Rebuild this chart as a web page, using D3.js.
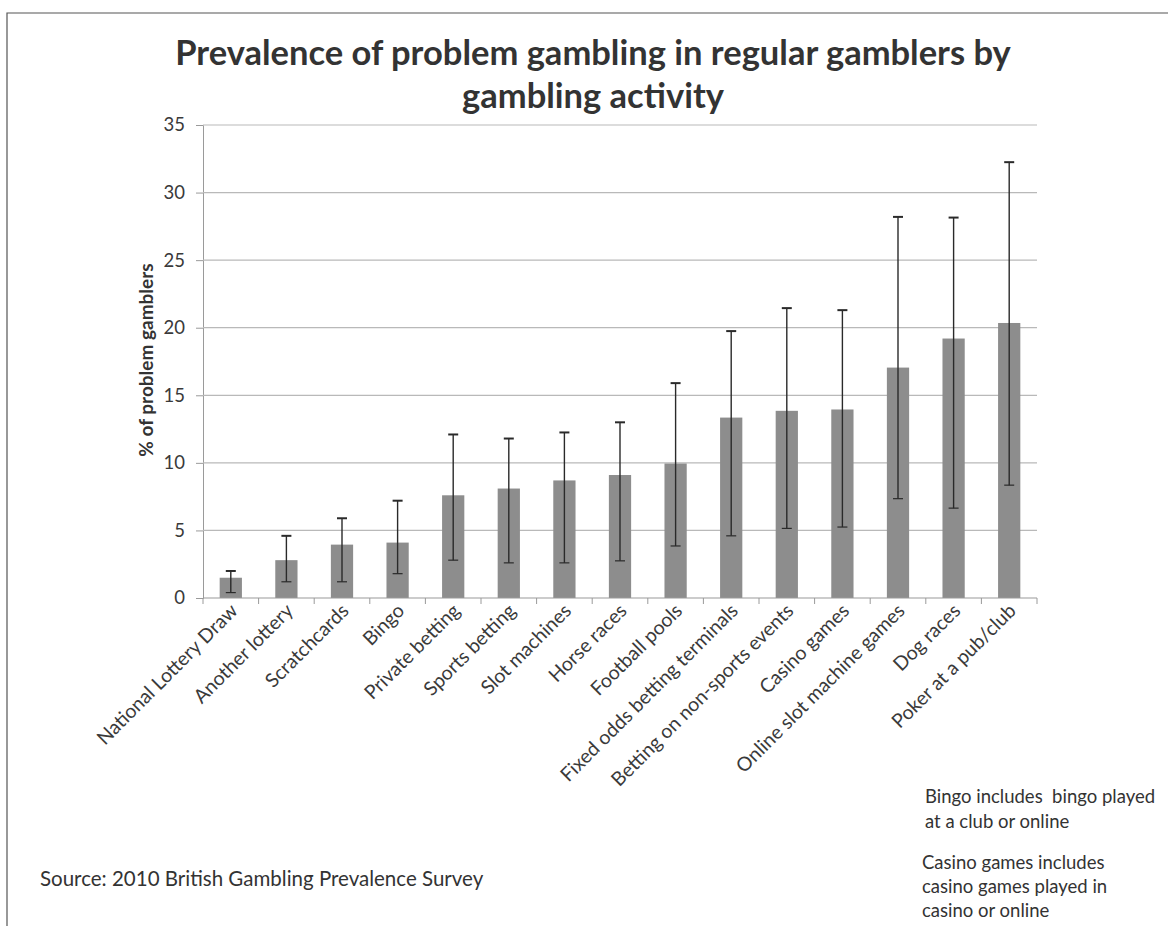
<!DOCTYPE html>
<html>
<head>
<meta charset="utf-8">
<script src="https://cdn.jsdelivr.net/npm/d3@7"></script>
<style>
  html, body { margin: 0; padding: 0; background: #fff; }
  svg { display: block; font-family: Lato, "Open Sans", sans-serif; }
  .pre { white-space: pre; }
</style>
</head>
<body>
<div id="chart"></div>
<script>
// Activities, sorted as in the survey chart
const CATEGORIES = [
    "National Lottery Draw", "Another lottery", "Scratchcards", "Bingo",
    "Private betting", "Sports betting", "Slot machines", "Horse races",
    "Football pools", "Fixed odds betting terminals", "Betting on non-sports events",
    "Casino games", "Online slot machine games", "Dog races", "Poker at a pub/club"
];

// % of problem gamblers (bar height)
const VALUES = [1.5, 2.8, 3.95, 4.1, 7.6, 8.1, 8.7, 9.1, 9.95, 13.35, 13.85, 13.95, 17.05, 19.2, 20.35];

// Confidence interval bounds
const LOWER = [0.4, 1.2, 1.2, 1.8, 2.8, 2.6, 2.6, 2.75, 3.85, 4.6, 5.15, 5.25, 7.35, 6.65, 8.35];
const UPPER = [2.0, 4.6, 5.9, 7.2, 12.1, 11.8, 12.25, 13.0, 15.9, 19.75, 21.45, 21.3, 28.2, 28.15, 32.25];

const Y_TICKS = [0, 5, 10, 15, 20, 25, 30, 35];

const TITLE_LINES = ["Prevalence of problem gambling in regular gamblers by", "gambling activity"];
const NOTES = [
    ["Bingo includes  bingo played", "at a club or online"],
    ["Casino games includes", "casino games played in", "casino or online"]
];
const SOURCE = "Source: 2010 British Gambling Prevalence Survey";

const COLORS = {
    bar: "#8d8d8d",
    err: "#2a2a2a",
    grid: "#b9b9b9",
    axis: "#9a9a9a",
    text: "#3a3a3a"
};

const data = CATEGORIES.map((c, i) => ({ name: c, value: VALUES[i], lo: LOWER[i], hi: UPPER[i] }));

const W = 1168, H = 926;
const plot = { left: 203, right: 1037, top: 125, bottom: 598 };

const svg = d3.select("#chart").append("svg")
    .attr("width", W)
    .attr("height", H);

// frame of the scanned chart area
svg.append("path")
    .attr("d", `M7,${H} L7,13 L${W},13`)
    .attr("fill", "none")
    .attr("stroke", "#555")
    .attr("stroke-width", 1.2);

const x = d3.scaleBand()
    .domain(CATEGORIES)
    .range([plot.left, plot.right])
    .paddingInner(0.6)
    .paddingOuter(0.3);

const y = d3.scaleLinear()
    .domain([0, 35])
    .range([plot.bottom, plot.top]);

// Title
svg.append("text")
    .attr("text-anchor", "middle")
    .attr("font-weight", "bold")
    .attr("font-size", 34.5)
    .attr("fill", "#333")
    .selectAll("tspan")
    .data(TITLE_LINES)
    .join("tspan")
    .attr("x", 593)
    .attr("y", (d, i) => 65 + i * 43)
    .text(d => d);

// Gridlines + y axis
const yAxis = svg.append("g")
    .attr("transform", `translate(${plot.left},0)`)
    .call(d3.axisLeft(y).tickValues(Y_TICKS).tickSize(7).tickPadding(11));

yAxis.select(".domain").attr("stroke", COLORS.axis);
yAxis.selectAll(".tick line").attr("stroke", COLORS.axis);
yAxis.selectAll(".tick text")
    .attr("fill", COLORS.text)
    .attr("font-size", 18.5)
    .attr("font-family", "Lato, sans-serif");

svg.append("g")
    .selectAll("line")
    .data(Y_TICKS.filter(d => d > 0))
    .join("line")
    .attr("x1", plot.left)
    .attr("x2", plot.right)
    .attr("y1", d => y(d))
    .attr("y2", d => y(d))
    .attr("stroke", COLORS.grid)
    .attr("stroke-width", 1.2);

// Y axis title
svg.append("text")
    .attr("transform", `translate(153,360) rotate(-90)`)
    .attr("text-anchor", "middle")
    .attr("font-weight", "bold")
    .attr("font-size", 19)
    .attr("fill", "#333")
    .text("% of problem gamblers");

// Bars
svg.append("g")
    .selectAll("rect")
    .data(data)
    .join("rect")
    .attr("x", d => x(d.name))
    .attr("y", d => y(d.value))
    .attr("width", x.bandwidth())
    .attr("height", d => y(0) - y(d.value))
    .attr("fill", COLORS.bar);

// Error bars
const cx = d => x(d.name) + x.bandwidth() / 2;
const err = svg.append("g")
    .attr("stroke", COLORS.err)
    .attr("stroke-width", 1.4);

err.selectAll(".stem")
    .data(data)
    .join("line")
    .attr("class", "stem")
    .attr("x1", cx).attr("x2", cx)
    .attr("y1", d => y(d.lo))
    .attr("y2", d => y(d.hi));

err.selectAll(".cap-hi")
    .data(data)
    .join("line")
    .attr("class", "cap-hi")
    .attr("x1", d => cx(d) - 5).attr("x2", d => cx(d) + 5)
    .attr("y1", d => y(d.hi)).attr("y2", d => y(d.hi))
    .attr("stroke-width", 2);

err.selectAll(".cap-lo")
    .data(data)
    .join("line")
    .attr("class", "cap-lo")
    .attr("x1", d => cx(d) - 5).attr("x2", d => cx(d) + 5)
    .attr("y1", d => y(d.lo)).attr("y2", d => y(d.lo))
    .attr("stroke-width", 1.2);

// X axis line and ticks between categories
svg.append("line")
    .attr("x1", plot.left).attr("x2", plot.right)
    .attr("y1", y(0)).attr("y2", y(0))
    .attr("stroke", COLORS.axis)
    .attr("stroke-width", 1.2);

const gap = (x.step() - x.bandwidth()) / 2;
const boundaries = CATEGORIES.map(c => x(c) - gap).concat([plot.right]);
svg.append("g")
    .selectAll("line")
    .data(boundaries)
    .join("line")
    .attr("x1", d => d).attr("x2", d => d)
    .attr("y1", y(0)).attr("y2", y(0) + 6)
    .attr("stroke", COLORS.axis);

// X labels rotated
svg.append("g")
    .selectAll("text")
    .data(data)
    .join("text")
    .attr("transform", d => `translate(${cx(d) + 8},${y(0) + 14}) rotate(-45)`)
    .attr("text-anchor", "end")
    .attr("font-size", 19.5)
    .attr("fill", COLORS.text)
    .text(d => d.name);

// Notes
const notes = svg.append("g")
    .attr("font-size", 18.5)
    .attr("fill", "#333");

notes.append("text")
    .attr("class", "pre")
    .selectAll("tspan")
    .data(NOTES[0])
    .join("tspan")
    .attr("x", 925)
    .attr("y", (d, i) => 803 + i * 25)
    .text(d => d);

notes.append("text")
    .selectAll("tspan")
    .data(NOTES[1])
    .join("tspan")
    .attr("x", 922)
    .attr("y", (d, i) => 869 + i * 24)
    .text(d => d);

svg.append("text")
    .attr("x", 40)
    .attr("y", 886)
    .attr("font-size", 20.5)
    .attr("fill", "#333")
    .text(SOURCE);
</script>
</body>
</html>
